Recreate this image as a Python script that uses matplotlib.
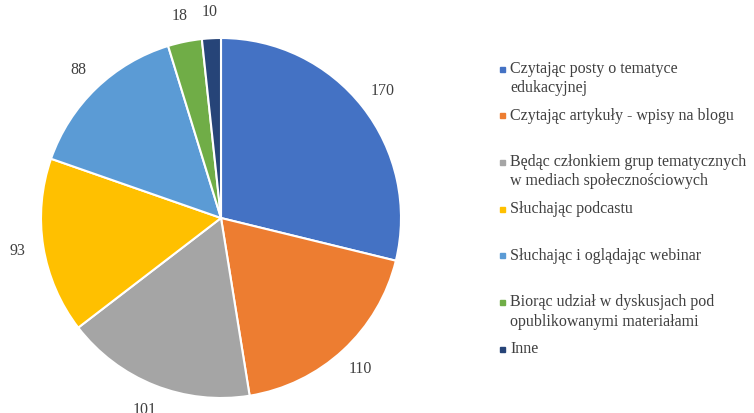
"""
Wykres kołowy - sposoby zdobywania wiedzy
"""
import matplotlib.pyplot as plt

plt.rcParams['font.family'] = ['Liberation Serif', 'DejaVu Serif']

# dane
categories = [
    'Czytając posty o tematyce\nedukacyjnej',
    'Czytając artykuły - wpisy na blogu',
    'Będąc członkiem grup tematycznych\nw mediach społecznościowych',
    'Słuchając podcastu',
    'Słuchając i oglądając webinar',
    'Biorąc udział w dyskusjach pod\nopublikowanymi materiałami',
    'Inne',
]
values = [170, 110, 101, 93, 88, 18, 10]
colors = ['#4472C4', '#ED7D31', '#A5A5A5', '#FFC000', '#5B9BD5', '#70AD47', '#264478']

text_color = '#404040'
W, H = 754, 413
fs = 11.5

fig = plt.figure(figsize=(W / 100, H / 100), dpi=100)

# oś koła: środek (221, 195 od dołu), promień 180 px
cx, cy, r = 221, 195, 180
ax = fig.add_axes([(cx - r) / W, (cy - r) / H, 2 * r / W, 2 * r / H])
wedges, texts = ax.pie(values, colors=colors, startangle=90, counterclock=False,
                       labels=[str(v) for v in values], labeldistance=1.145,
                       wedgeprops=dict(edgecolor='white', linewidth=1.5),
                       textprops=dict(fontsize=fs, color=text_color))
for t in texts:
    t.set_ha('center')
    t.set_va('center')
ax.set_xlim(-1, 1)
ax.set_ylim(-1, 1)
ax.set_aspect('equal')
ax.axis('off')

# legenda (ręcznie, jak w Excelu)
legend_y0, legend_step, line_step = 69, 46.7, 19
for i, (label, color) in enumerate(zip(categories, colors)):
    y = legend_y0 + i * legend_step
    fig.patches.append(plt.Rectangle((500 / W, 1 - (y + 2.5) / H), 5 / W, 5 / H,
                                     transform=fig.transFigure, color=color))
    for j, line in enumerate(label.split('\n')):
        fig.text(510 / W, 1 - (y + 4 + j * line_step) / H, line, fontsize=fs,
                 color=text_color, va='baseline', ha='left')

plt.savefig('out.png', dpi=100)
